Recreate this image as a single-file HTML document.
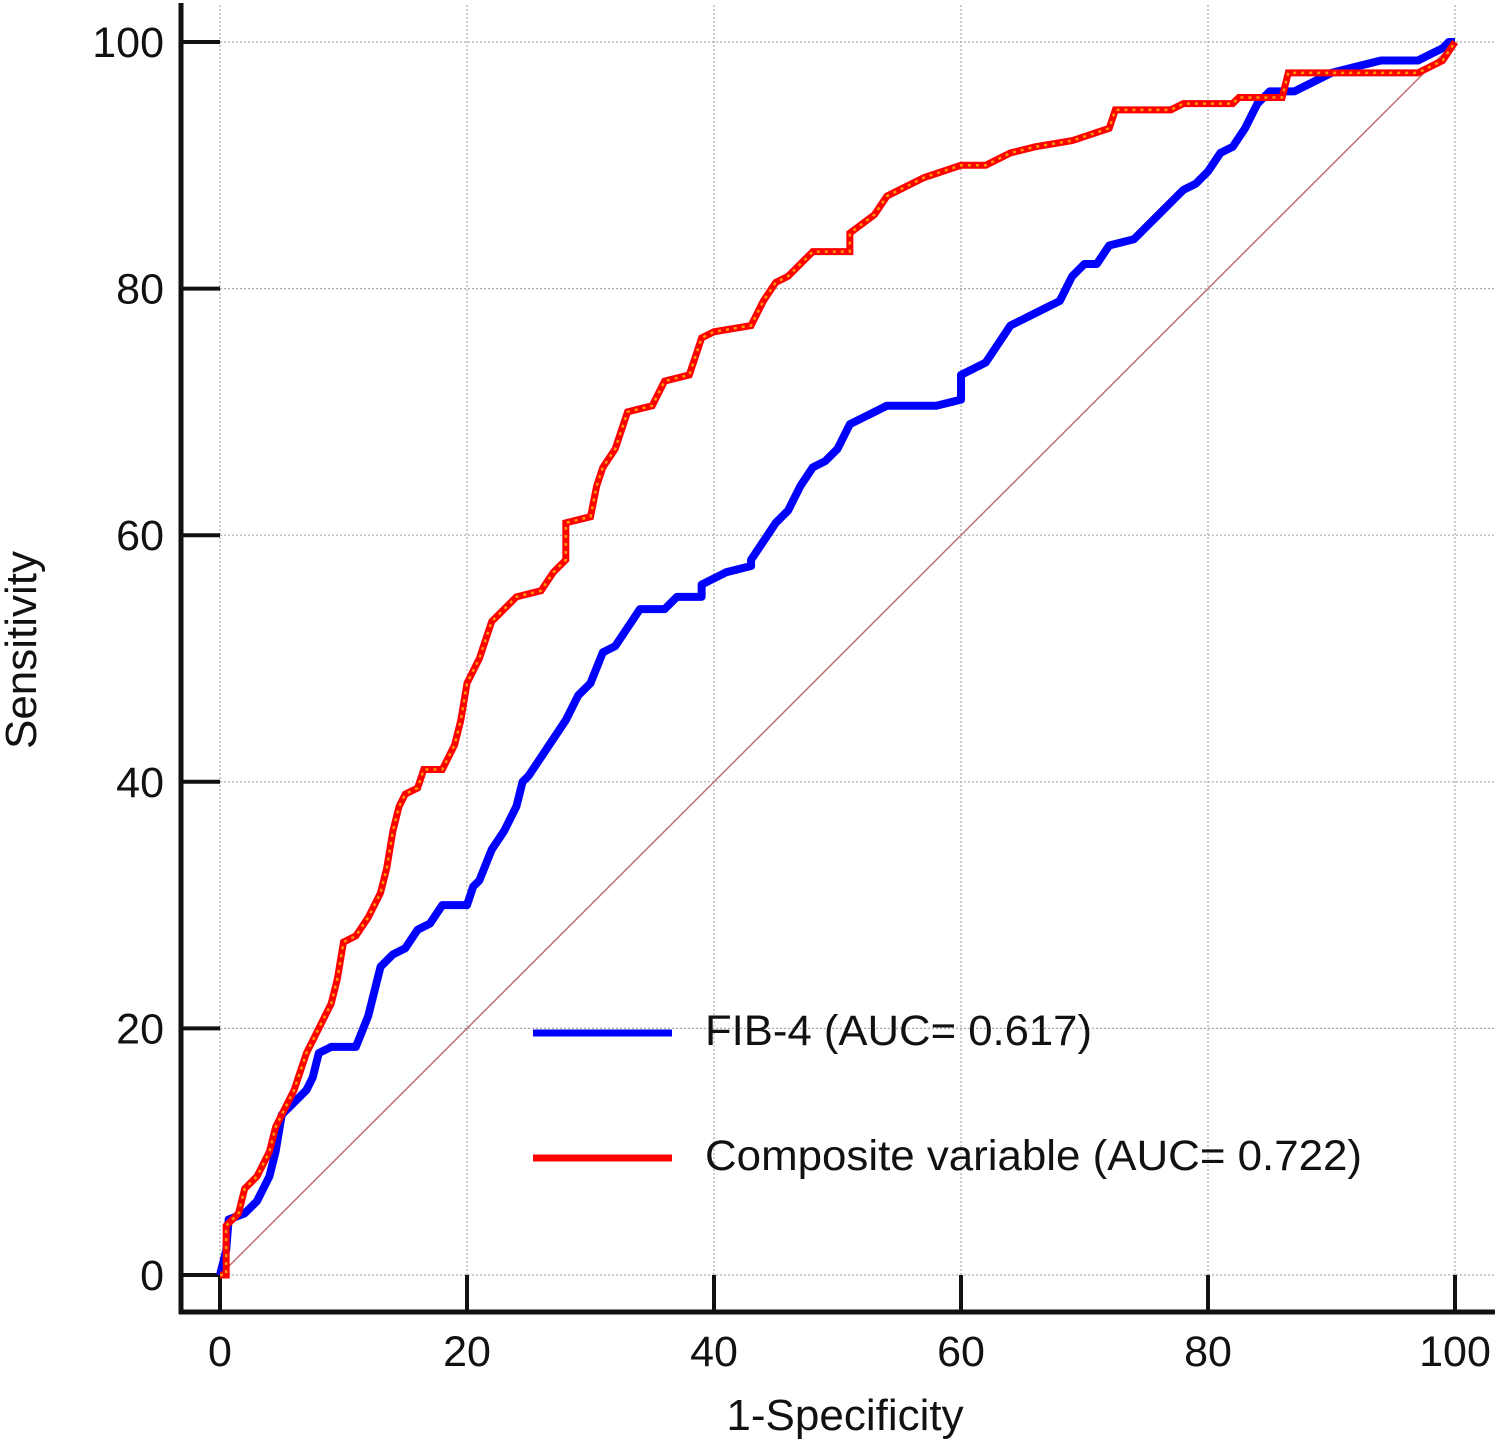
<!DOCTYPE html>
<html><head><meta charset="utf-8"><style>
html,body{margin:0;padding:0;background:#fff;}
svg text{font-family:"Liberation Sans",Arial,sans-serif;fill:#111;}
</style></head><body>
<svg id="chart" width="1499" height="1441" viewBox="0 0 1499 1441" xmlns="http://www.w3.org/2000/svg">
<g id="grid"></g>
<g id="axes"></g>
<line id="diag" stroke="#c07070" stroke-width="1.5"/>
<g id="series"></g>
<g>
  <line x1="533" y1="1033" x2="672" y2="1033" stroke="#0000ff" stroke-width="7"/>
  <text x="705" y="1045" font-size="43" textLength="387" lengthAdjust="spacingAndGlyphs">FIB-4 (AUC= 0.617)</text>
  <line x1="533" y1="1158" x2="672" y2="1158" stroke="#ff0000" stroke-width="7"/>
  <text x="705" y="1170" font-size="43" textLength="657" lengthAdjust="spacingAndGlyphs">Composite variable (AUC= 0.722)</text>
</g>
<text x="845" y="1430" font-size="44" text-anchor="middle">1-Specificity</text>
<text transform="translate(36,650) rotate(-90)" font-size="44" text-anchor="middle">Sensitivity</text>
</svg>
<script>
const xTicks=[0,20,40,60,80,100];
const yTicks=[0,20,40,60,80,100];
const compX=[0,0.5,0.5,1.5,2,3,4,4.5,5,6,7,8,9,9.5,10,11,12,13,13.5,14,14.5,15,16,16.5,18,18.5,19,19.5,20,21,22,23,24,26,27,28,28,30,30.5,31,32,33,35,36,38,39,40,43,44,45,46,47,48,51,51,53,54,56,57,60,62,64,66,69,72,72.5,77,78,82,82.5,86,86.5,90,97,99,100];
const compY=[0,0,4,5,7,8,10,12,13,15,18,20,22,24,27,27.5,29,31,33,36,38,39,39.5,41,41,42,43,45,48,50,53,54,55,55.5,57,58,61,61.5,64,65.5,67,70,70.5,72.5,73,76,76.5,77,79,80.5,81,82,83,83,84.5,86,87.5,88.5,89,90,90,91,91.5,92,93,94.5,94.5,95,95,95.5,95.5,97.5,97.5,97.5,98.5,100];
const fibX=[0,0.5,0.7,2,3,4,4.5,5,6,7,7.5,8,9,11,12,13,14,15,16,17,18,20,20.5,21,22,23,24,24.5,25,26,27,28,29,30,31,32,33,34,36,37,39,39,41,43,43,44,45,46,47,48,49,50,51,52,54,58,60,60,62,63,64,66,68,69,70,71,72,74,75,76,77,78,79,80,81,82,83,84,85,87,88,89,90,92,94,97,98,99,99.5,100];
const fibY=[0,2,4.5,5,6,8,10,13,14,15,16,18,18.5,18.5,21,25,26,26.5,28,28.5,30,30,31.5,32,34.5,36,38,40,40.5,42,43.5,45,47,48,50.5,51,52.5,54,54,55,55,56,57,57.5,58,59.5,61,62,64,65.5,66,67,69,69.5,70.5,70.5,71,73,74,75.5,77,78,79,81,82,82,83.5,84,85,86,87,88,88.5,89.5,91,91.5,93,95,96,96,96.5,97,97.5,98,98.5,98.5,99,99.5,100,100];

const X=v=>220+v*12.35, Y=v=>1275-v*12.33;
const NS="http://www.w3.org/2000/svg";
function mk(tag,attrs,parent){const e=document.createElementNS(NS,tag);for(const k in attrs)e.setAttribute(k,attrs[k]);parent.appendChild(e);return e;}
const grid=document.getElementById('grid'), axes=document.getElementById('axes'), series=document.getElementById('series');
xTicks.forEach(t=>{
  const g=mk('line',{x1:X(t),x2:X(t),y1:5,y2:1275,stroke:'#aaa','stroke-width':1.2,'stroke-dasharray':'2,2'},grid);
  
  
  const tk=mk('line',{x1:X(t),x2:X(t),y1:1275,y2:1312,stroke:'#111','stroke-width':4},axes);
  
  
  const tx=mk('text',{x:X(t),y:1366,'font-size':43,'text-anchor':'middle'},axes);
  tx.textContent=t;
  
  
});
yTicks.forEach(t=>{
  const g=mk('line',{x1:220,x2:1495,y1:Y(t),y2:Y(t),stroke:'#aaa','stroke-width':1.2,'stroke-dasharray':'2,2'},grid);
  
  
  const tk=mk('line',{x1:180,x2:220,y1:Y(t),y2:Y(t),stroke:'#111','stroke-width':4},axes);
  
  
  const tx=mk('text',{x:164,y:Y(t)+15,'font-size':43,'text-anchor':'end'},axes);
  tx.textContent=t;
  
  
});
const ya=mk('line',{x1:181,x2:181,y1:3,y2:1314,stroke:'#111','stroke-width':5},axes);


const xa=mk('line',{x1:179,x2:1495,y1:1312,y2:1312,stroke:'#111','stroke-width':5},axes);


const d=document.getElementById('diag');
d.setAttribute('x1',X(0));d.setAttribute('y1',Y(0));d.setAttribute('x2',X(100));d.setAttribute('y2',Y(100));
function pts(xs,ys){return xs.map((x,i)=>X(x)+','+Y(ys[i])).join(' ');}
const fib=mk('polyline',{points:pts(fibX,fibY),fill:'none',stroke:'#0000ff','stroke-width':8,'stroke-linejoin':'round'},series);


const comp=mk('polyline',{points:pts(compX,compY),fill:'none',stroke:'#ff0000','stroke-width':7},series);


const compIn=mk('polyline',{points:pts(compX,compY),fill:'none',stroke:'#ff9900','stroke-width':2.5,'stroke-dasharray':'3,5'},series);


</script>
</body></html>
